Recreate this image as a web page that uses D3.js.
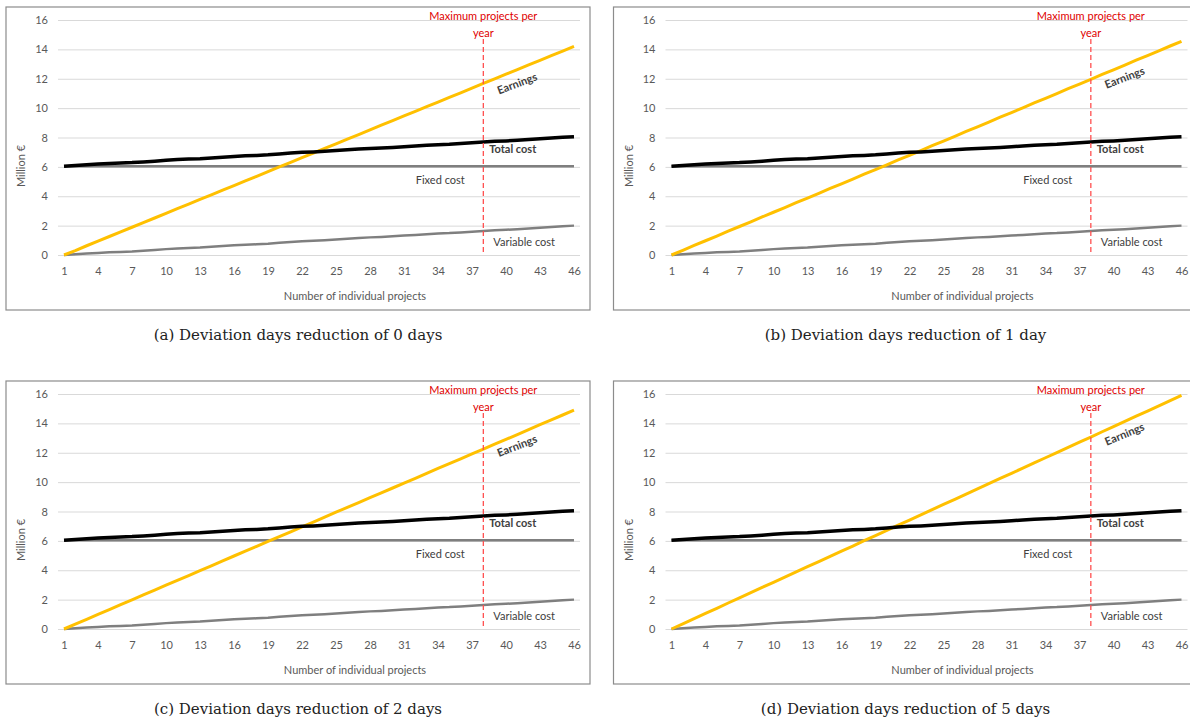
<!DOCTYPE html>
<html lang="en">
<head>
  <meta charset="utf-8">
  <title>Earnings vs cost per number of projects</title>
  <style>
body {
  margin: 0;
  background: #fff;
  overflow: hidden;
}
svg text { font-family: Lato, "Open Sans", sans-serif; }
.tick text { fill: #595959; font-size: 11px; }
.caption { font-family: "DejaVu Serif", "Liberation Serif", serif !important; font-size: 15px; fill: #222; }
  </style>
  <script src="https://cdnjs.cloudflare.com/ajax/libs/d3/7.8.5/d3.min.js"></script>
</head>
<body>
<svg id="chart" width="1190" height="720"></svg>

<script>
// x categories and ticks
var projects = d3.range(1, 47);
var xTicks = [1, 4, 7, 10, 13, 16, 19, 22, 25, 28, 31, 34, 37, 40, 43, 46];
var yTicks = [0, 2, 4, 6, 8, 10, 12, 14, 16];
var maxProjects = 38;

// cost series (same in all four scenarios), million €
var fixedCost = projects.map(function() { return 6.05; });
var variableCost = [0.00, 0.05, 0.10, 0.14, 0.18, 0.21, 0.24, 0.29, 0.34, 0.40,
  0.45, 0.48, 0.51, 0.56, 0.61, 0.66, 0.70, 0.73, 0.77, 0.83,
  0.89, 0.94, 0.97, 1.01, 1.06, 1.11, 1.16, 1.20, 1.23, 1.27,
  1.32, 1.37, 1.42, 1.46, 1.49, 1.54, 1.59, 1.64, 1.69, 1.72,
  1.76, 1.81, 1.86, 1.91, 1.96, 2.00];
var totalCost = [6.05, 6.10, 6.15, 6.19, 6.23, 6.26, 6.29, 6.34, 6.39, 6.45,
  6.50, 6.53, 6.56, 6.61, 6.66, 6.71, 6.75, 6.78, 6.82, 6.88,
  6.94, 6.99, 7.02, 7.06, 7.11, 7.16, 7.21, 7.25, 7.28, 7.32,
  7.37, 7.42, 7.47, 7.51, 7.54, 7.59, 7.64, 7.69, 7.74, 7.77,
  7.81, 7.86, 7.91, 7.96, 8.01, 8.05];

// earnings per scenario (deviation days reduction 0, 1, 2, 5)
var earnings0 = [0, 0.30, 0.63, 0.95, 1.26, 1.58, 1.89, 2.21, 2.52, 2.84,
  3.16, 3.47, 3.79, 4.10, 4.42, 4.73, 5.05, 5.36, 5.68, 6.00,
  6.31, 6.63, 6.94, 7.26, 7.57, 7.89, 8.20, 8.52, 8.84, 9.15,
  9.47, 9.78, 10.10, 10.41, 10.73, 11.04, 11.36, 11.68, 11.99, 12.31,
  12.62, 12.94, 13.25, 13.57, 13.88, 14.20];
var earnings1 = [0, 0.32, 0.65, 0.97, 1.29, 1.62, 1.94, 2.26, 2.59, 2.91,
  3.23, 3.56, 3.88, 4.20, 4.53, 4.85, 5.17, 5.50, 5.82, 6.14,
  6.47, 6.79, 7.11, 7.44, 7.76, 8.08, 8.41, 8.73, 9.05, 9.38,
  9.70, 10.02, 10.35, 10.67, 10.99, 11.32, 11.64, 11.96, 12.29, 12.61,
  12.93, 13.26, 13.58, 13.90, 14.23, 14.55];
var earnings2 = [0, 0.33, 0.66, 0.99, 1.32, 1.66, 1.99, 2.32, 2.65, 2.98,
  3.31, 3.64, 3.97, 4.30, 4.64, 4.97, 5.30, 5.63, 5.96, 6.29,
  6.62, 6.95, 7.28, 7.62, 7.95, 8.28, 8.61, 8.94, 9.27, 9.60,
  9.93, 10.26, 10.60, 10.93, 11.26, 11.59, 11.92, 12.25, 12.58, 12.91,
  13.24, 13.58, 13.91, 14.24, 14.57, 14.90];
var earnings5 = [0, 0.35, 0.71, 1.06, 1.41, 1.77, 2.12, 2.47, 2.83, 3.18,
  3.53, 3.89, 4.24, 4.59, 4.95, 5.30, 5.65, 6.01, 6.36, 6.71,
  7.07, 7.42, 7.77, 8.13, 8.48, 8.83, 9.19, 9.54, 9.89, 10.25,
  10.60, 10.95, 11.31, 11.66, 12.01, 12.37, 12.72, 13.07, 13.43, 13.78,
  14.13, 14.49, 14.84, 15.19, 15.55, 15.90];

var captions = ['(a) Deviation days reduction of 0 days', '(b) Deviation days reduction of 1 day',
  '(c) Deviation days reduction of 2 days', '(d) Deviation days reduction of 5 days'];
var earningsSets = [earnings0, earnings1, earnings2, earnings5];
var earningsLabelY = [11.7, 12.1, 12.5, 13.3];

var svg = d3.select('#chart');
var origins = [[6, 7], [613.5, 7], [6, 381], [613.5, 381]];

var panelW = 584, panelH = 303;
var x = d3.scaleLinear().domain([1, 46]).range([58, 568]);
var y = d3.scaleLinear().domain([0, 16]).range([248, 13]);

var line = d3.line()
  .x(function(d, i) { return x(projects[i]); })
  .y(function(d) { return y(d); });

function drawPanel(k) {
  var g = svg.append('g').attr('transform', 'translate(' + origins[k][0] + ',' + origins[k][1] + ')');
  var earnings = earningsSets[k];

  g.append('rect')
    .attr('x', 0).attr('y', 0).attr('width', panelW).attr('height', panelH)
    .attr('fill', 'none').attr('stroke', '#8c8c8c').attr('stroke-width', 1.2);

  // gridlines + y labels
  var yAxis = g.append('g').attr('transform', 'translate(52,0)')
    .call(d3.axisLeft(y).tickValues(yTicks).tickSize(-522).tickPadding(10));
  yAxis.select('.domain').remove();
  yAxis.selectAll('.tick line').attr('stroke', '#d9d9d9').attr('stroke-width', 1);

  // x labels
  var xAxis = g.append('g').attr('transform', 'translate(0,256)')
    .call(d3.axisBottom(x).tickValues(xTicks).tickSize(0).tickPadding(4));
  xAxis.select('.domain').remove();

  g.append('text').attr('x', 349).attr('y', 293).attr('text-anchor', 'middle')
    .attr('fill', '#595959').style('font-size', '11px').text('Number  of individual projects');
  g.append('text').attr('transform', 'translate(19,159) rotate(-90)').attr('text-anchor', 'middle')
    .attr('fill', '#595959').style('font-size', '11px').text('Million €');

  // series
  g.append('path').datum(variableCost).attr('d', line)
    .attr('fill', 'none').attr('stroke', '#7f7f7f').attr('stroke-width', 2.5);
  g.append('path').datum(fixedCost).attr('d', line)
    .attr('fill', 'none').attr('stroke', '#7f7f7f').attr('stroke-width', 2.5);
  g.append('path').datum(earnings).attr('d', line)
    .attr('fill', 'none').attr('stroke', '#ffc000').attr('stroke-width', 3);
  g.append('path').datum(totalCost).attr('d', line)
    .attr('fill', 'none').attr('stroke', '#000').attr('stroke-width', 3.5);

  // max projects marker
  var mx = x(maxProjects);
  g.append('line').attr('x1', mx).attr('x2', mx).attr('y1', 32).attr('y2', y(0))
    .attr('stroke', '#ff5050').attr('stroke-width', 1.3).attr('stroke-dasharray', '5,3');
  g.append('text').attr('x', mx).attr('y', 13).attr('text-anchor', 'middle')
    .attr('fill', '#e00000').style('font-size', '11px').text('Maximum projects per');
  g.append('text').attr('x', mx).attr('y', 30).attr('text-anchor', 'middle')
    .attr('fill', '#e00000').style('font-size', '11px').text('year');

  // series labels
  var slope = (y(earnings[45]) - y(earnings[0])) / (x(46) - x(1));
  var ang = Math.atan(slope) * 180 / Math.PI * 0.92;
  g.append('text')
    .attr('transform', 'translate(' + x(41.1) + ',' + (y(earningsLabelY[k]) + 4) + ') rotate(' + ang + ')')
    .attr('text-anchor', 'middle').attr('fill', '#404040').style('font-size', '11px')
    .style('font-weight', 'bold').text('Earnings');
  g.append('text').attr('x', x(40.6)).attr('y', y(7.2) + 4).attr('text-anchor', 'middle')
    .attr('fill', '#404040').style('font-size', '11px').style('font-weight', 'bold').text('Total cost');
  g.append('text').attr('x', x(34.2)).attr('y', y(5.1) + 4).attr('text-anchor', 'middle')
    .attr('fill', '#404040').style('font-size', '11px').text('Fixed cost');
  g.append('text').attr('x', x(41.6)).attr('y', y(0.86) + 4).attr('text-anchor', 'middle')
    .attr('fill', '#404040').style('font-size', '11px').text('Variable cost');

  g.append('text').attr('class', 'caption').attr('x', panelW / 2).attr('y', 333)
    .attr('text-anchor', 'middle').text(captions[k]);
}

for (var k = 0; k < 4; k++) drawPanel(k);
</script>
</body>
</html>
